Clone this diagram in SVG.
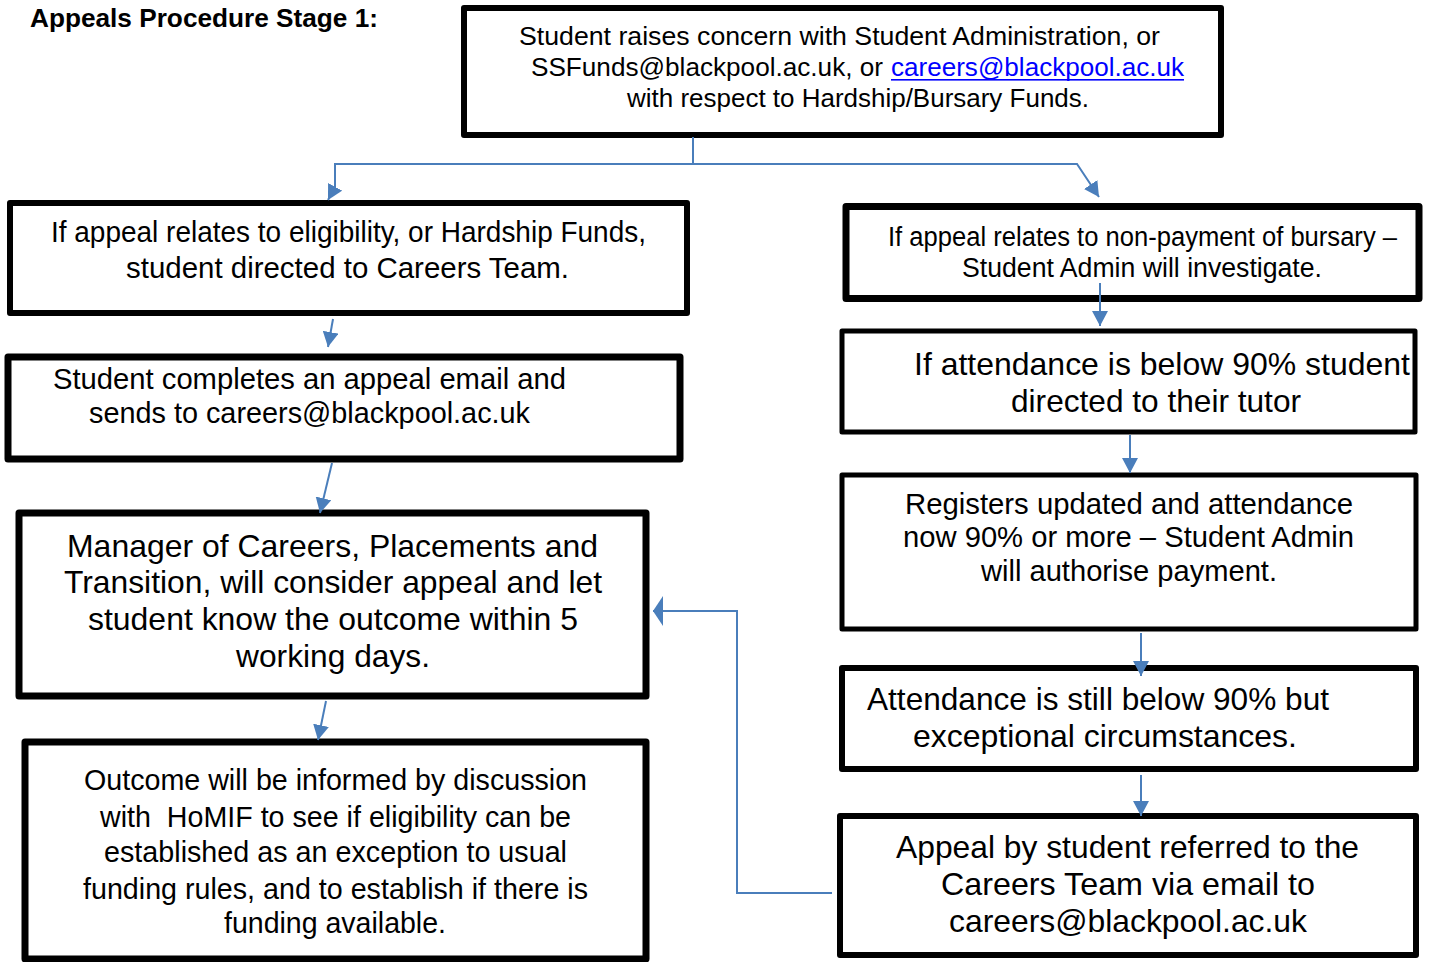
<svg xmlns="http://www.w3.org/2000/svg" width="1432" height="962" viewBox="0 0 1432 962">
<style>
.box{fill:#fff;stroke:#000;stroke-linejoin:round}
.t{font-family:"Liberation Sans",Arial,sans-serif;fill:#000}
.c{fill:none;stroke:#4A7EBB;stroke-width:2}
.link{fill:#0000FF}
</style>
<defs>
<marker id="arr" viewBox="0 0 15 16" refX="15" refY="8" markerWidth="15" markerHeight="16" markerUnits="userSpaceOnUse" orient="auto">
<path d="M0,0 L15,8 L0,16 z" fill="#4A7EBB"/>
</marker>
<marker id="arrTall" viewBox="0 0 10 30" refX="10" refY="15" markerWidth="10" markerHeight="30" markerUnits="userSpaceOnUse" orient="auto">
<path d="M0,0 L10,15 L0,30 z" fill="#4A7EBB"/>
</marker>
</defs>
<rect width="1432" height="962" fill="#fff"/>

<text class="t" x="30" y="27" font-size="25.5" font-weight="bold" textLength="348" lengthAdjust="spacingAndGlyphs">Appeals Procedure Stage 1:</text>

<g id="n-start">
<rect class="box" x="464" y="8" width="757" height="127" stroke-width="6"/>
<text class="t" x="519" y="45" font-size="25" textLength="641" lengthAdjust="spacingAndGlyphs">Student raises concern with Student Administration, or</text>
<text class="t" x="531" y="76" font-size="25" textLength="352" lengthAdjust="spacingAndGlyphs">SSFunds@blackpool.ac.uk, or</text>
<text class="t link" x="891" y="76" font-size="25" textLength="293" lengthAdjust="spacingAndGlyphs">careers@blackpool.ac.uk</text>
<rect x="891" y="79" width="293" height="1.6" fill="#0000FF"/>
<text class="t" x="627" y="107" font-size="25" textLength="462" lengthAdjust="spacingAndGlyphs">with respect to Hardship/Bursary Funds.</text>
</g>

<g id="n-eligibility">
<rect class="box" x="10" y="203" width="677" height="110" stroke-width="6"/>
<text class="t" x="51" y="242" font-size="30" textLength="595" lengthAdjust="spacingAndGlyphs">If appeal relates to eligibility, or Hardship Funds,</text>
<text class="t" x="126" y="278" font-size="30" textLength="443" lengthAdjust="spacingAndGlyphs">student directed to Careers Team.</text>
</g>

<g id="n-nonpayment">
<rect class="box" x="846" y="206.5" width="573" height="92" stroke-width="7"/>
<text class="t" x="888" y="246" font-size="27" textLength="509" lengthAdjust="spacingAndGlyphs">If appeal relates to non-payment of bursary –</text>
<text class="t" x="962" y="277" font-size="27" textLength="360" lengthAdjust="spacingAndGlyphs">Student Admin will investigate.</text>
</g>

<g id="n-email">
<rect class="box" x="8" y="357" width="672" height="102" stroke-width="7"/>
<text class="t" x="53" y="389" font-size="30" textLength="513" lengthAdjust="spacingAndGlyphs">Student completes an appeal email and</text>
<text class="t" x="89" y="423" font-size="30" textLength="441" lengthAdjust="spacingAndGlyphs">sends to careers@blackpool.ac.uk</text>
</g>

<g id="n-attendance">
<rect class="box" x="842" y="331" width="573" height="101" stroke-width="5"/>
<text class="t" x="914" y="375" font-size="32" textLength="496" lengthAdjust="spacingAndGlyphs">If attendance is below 90% student</text>
<text class="t" x="1011" y="412" font-size="32" textLength="290" lengthAdjust="spacingAndGlyphs">directed to their tutor</text>
</g>

<g id="n-manager">
<rect class="box" x="19" y="513" width="627" height="183" stroke-width="7"/>
<text class="t" x="67" y="557" font-size="32" textLength="531" lengthAdjust="spacingAndGlyphs">Manager of Careers, Placements and</text>
<text class="t" x="64" y="593" font-size="32" textLength="538" lengthAdjust="spacingAndGlyphs">Transition, will consider appeal and let</text>
<text class="t" x="88" y="630" font-size="32" textLength="490" lengthAdjust="spacingAndGlyphs">student know the outcome within 5</text>
<text class="t" x="236" y="667" font-size="32" textLength="194" lengthAdjust="spacingAndGlyphs">working days.</text>
</g>

<g id="n-registers">
<rect class="box" x="842" y="475" width="574" height="154" stroke-width="5"/>
<text class="t" x="905" y="514" font-size="29" textLength="448" lengthAdjust="spacingAndGlyphs">Registers updated and attendance</text>
<text class="t" x="903" y="547" font-size="29" textLength="451" lengthAdjust="spacingAndGlyphs">now 90% or more – Student Admin</text>
<text class="t" x="981" y="581" font-size="29" textLength="296" lengthAdjust="spacingAndGlyphs">will authorise payment.</text>
</g>

<g id="n-exceptional">
<rect class="box" x="842" y="668" width="574" height="101" stroke-width="6"/>
<text class="t" x="867" y="710" font-size="32" textLength="462" lengthAdjust="spacingAndGlyphs">Attendance is still below 90% but</text>
<text class="t" x="913" y="747" font-size="32" textLength="384" lengthAdjust="spacingAndGlyphs">exceptional circumstances.</text>
</g>

<g id="n-outcome">
<rect class="box" x="25" y="742" width="621" height="217" stroke-width="7"/>
<text class="t" x="84" y="790" font-size="30" textLength="503" lengthAdjust="spacingAndGlyphs">Outcome will be informed by discussion</text>
<text class="t" x="100" y="827" font-size="30" textLength="471" lengthAdjust="spacingAndGlyphs" xml:space="preserve">with  HoMIF to see if eligibility can be</text>
<text class="t" x="104" y="862" font-size="30" textLength="463" lengthAdjust="spacingAndGlyphs">established as an exception to usual</text>
<text class="t" x="83" y="899" font-size="30" textLength="505" lengthAdjust="spacingAndGlyphs">funding rules, and to establish if there is</text>
<text class="t" x="224" y="933" font-size="30" textLength="222" lengthAdjust="spacingAndGlyphs">funding available.</text>
</g>

<g id="n-referred">
<rect class="box" x="840" y="816" width="576" height="139" stroke-width="6"/>
<text class="t" x="896" y="858" font-size="32" textLength="463" lengthAdjust="spacingAndGlyphs">Appeal by student referred to the</text>
<text class="t" x="941" y="895" font-size="32" textLength="374" lengthAdjust="spacingAndGlyphs">Careers Team via email to</text>
<text class="t" x="949" y="932" font-size="32" textLength="358" lengthAdjust="spacingAndGlyphs">careers@blackpool.ac.uk</text>
</g>

<g id="connectors">
<path class="c" d="M693,137 V164"/>
<path class="c" d="M693,164 H335 V187 L328,200" marker-end="url(#arr)"/>
<path class="c" d="M693,164 H1077 L1099,197" marker-end="url(#arr)"/>
<path class="c" d="M333,319 L328,347" marker-end="url(#arr)"/>
<path class="c" d="M332,463 L320,513" marker-end="url(#arr)"/>
<path class="c" d="M326,701 L318,740" marker-end="url(#arr)"/>
<path class="c" d="M1100,283 V326" marker-end="url(#arr)"/>
<path class="c" d="M1130,435 V473" marker-end="url(#arr)"/>
<path class="c" d="M1141,633 V676" marker-end="url(#arr)"/>
<path class="c" d="M1141,775 V816" marker-end="url(#arr)"/>
<path class="c" d="M832,893 H737 V611 H653" marker-end="url(#arrTall)"/>
</g>
</svg>
